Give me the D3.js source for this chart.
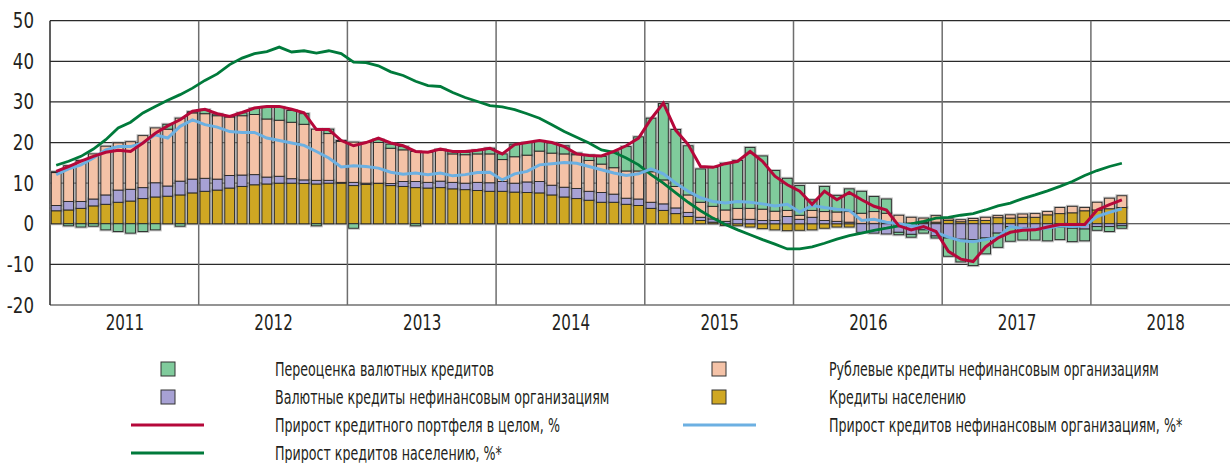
<!DOCTYPE html>
<html>
<head>
<meta charset="utf-8">
<script src="https://cdn.jsdelivr.net/npm/d3@7"></script>
<style>
  body { margin: 0; background: #fff; }
  text { font-family: "Liberation Sans Narrow", "DejaVu Sans Condensed", sans-serif; fill: #231f20; }
</style>
</head>
<body>
<div id="chart"></div>
<script>
// monthly data, Jan 2011 .. Mar 2018 (87 months), p.p. / %
let years = [2011, 2012, 2013, 2014, 2015, 2016, 2017, 2018];
let yTicks = [-20, -10, 0, 10, 20, 30, 40, 50];

// Кредиты населению
let households = [3.2,3.4,3.8,4.4,4.8,5.3,5.6,6.2,6.6,6.8,7.1,7.6,
  8.0,8.3,8.8,9.2,9.6,9.8,10.0,10.0,9.9,9.8,10.0,10.0,
  9.4,9.7,9.9,9.4,9.2,8.9,8.8,8.9,8.6,8.4,8.2,8.0,
  8.0,7.8,7.7,7.6,7.1,6.6,6.2,5.8,5.3,5.3,4.8,4.5,
  3.8,3.3,2.5,1.8,0.8,0.4,-0.4,-0.5,-0.8,-1.2,-1.5,-1.7,
  -1.6,-1.5,-1.1,-0.8,-0.8,0.1,0.1,0.1,0.1,0.2,0.3,0.4,
  0.8,0.5,0.8,0.8,1.5,1.4,1.6,1.6,2.2,2.5,2.7,3.2,
  3.4,3.7,4.0];

// Валютные кредиты нефинансовым организациям
let fxCorp = [1.3,2.1,1.7,1.7,2.3,3.0,2.9,2.7,3.5,2.5,3.4,3.4,
  3.2,2.7,3.1,2.8,2.5,1.7,1.7,1.1,0.9,0.9,0.7,0.2,
  0.8,0.3,0.1,0.5,1.2,1.5,1.4,1.6,1.6,1.6,2.0,2.1,
  2.4,2.2,2.6,2.8,2.4,2.4,2.5,2.2,2.4,2.0,1.5,1.6,
  1.5,1.6,1.4,1.0,0.8,0.8,0.6,1.1,1.1,0.8,0.8,1.8,
  1.1,1.6,0.8,0.6,0.4,-2.1,-2.3,-2.5,-2.1,-2.6,-1.5,-3.0,
  -3.5,-3.8,-3.9,-3.5,-2.3,-0.7,-1.1,-1.5,-1.1,-0.8,-1.1,-1.3,
  -0.7,-0.7,-0.5];

// Рублевые кредиты нефинансовым организациям
let rubCorp = [8.1,8.8,10.1,11.1,12.0,11.6,11.7,12.8,13.5,14.0,15.5,16.3,
  15.9,15.6,14.4,14.6,14.8,14.3,13.8,13.9,13.7,12.6,11.5,10.1,
  9.9,10.0,10.0,8.7,7.8,7.4,7.4,7.6,7.0,7.0,7.0,7.1,
  5.4,6.5,6.6,7.5,7.9,8.2,8.3,7.6,7.0,6.5,6.7,6.9,
  7.5,5.9,5.3,4.3,3.7,3.1,2.8,2.7,2.7,2.8,2.3,1.5,
  1.0,1.7,2.2,2.3,2.6,2.5,2.9,2.5,2.0,1.4,1.1,1.6,
  0.4,0.5,0.5,0.8,0.5,0.8,0.8,0.9,0.8,1.5,1.6,0.8,
  1.9,2.6,2.9];

// Переоценка валютных кредитов
let revaluation = [0.2,-0.5,-0.8,-0.6,-1.5,-1.9,-2.3,-1.9,-1.5,1.2,-0.6,0.3,
  1.0,0.4,0.1,0.7,1.5,2.9,3.2,2.9,2.6,-0.5,1.1,0.2,
  -1.1,0,0.7,1.0,0.8,-0.5,0,0.2,0.6,0.6,0.9,1.4,
  1.4,3.1,3.1,2.4,2.5,2.0,0.4,1.3,1.9,3.9,6.0,8.4,
  13.2,18.8,14.0,12.1,8.2,9.6,11.5,11.8,15.0,13.1,10.0,7.9,
  7.3,2.6,6.2,4.1,5.6,5.4,3.7,3.5,-0.6,-0.7,-0.8,-0.5,
  -4.5,-5.6,-6.4,-3.9,-3.5,-3.6,-2.9,-2.5,-3.1,-3.1,-3.3,-2.9,
  -0.9,-1.2,-0.6];

// Прирост кредитного портфеля в целом, %
let totalGrowth = [12.9,14.1,15.4,16.6,17.6,18.1,17.8,19.9,22.3,24.1,25.6,27.7,
  28.2,27.1,26.4,27.4,28.5,28.9,28.9,28.2,27.3,23.2,23.2,20.5,
  19.2,20.0,21.1,19.9,19.2,17.8,17.6,18.4,17.8,17.8,18.1,18.6,
  17.2,19.5,20.0,20.5,20.0,19.0,17.2,16.8,16.7,17.8,19.2,21.1,
  25.8,29.7,23.0,19.5,14.1,13.9,14.8,15.4,17.8,15.4,11.7,9.6,
  8.0,4.8,8.0,5.9,7.7,5.9,4.3,3.4,-0.5,-1.5,-0.7,-1.9,
  -6.8,-8.7,-9.3,-5.7,-3.5,-2.1,-1.6,-1.5,-0.8,-0.2,-0.2,-0.2,
  3.4,4.7,5.9];

// Прирост кредитов нефинансовым организациям, %*
let corpGrowth = [12.1,13.5,14.5,16.2,18.2,19.0,19.0,19.9,21.9,21.1,24.0,25.6,
  24.4,23.8,22.7,22.5,22.5,21.1,20.5,19.9,19.3,17.8,16.2,14.0,
  14.3,14.1,13.7,12.7,12.2,12.5,12.1,12.5,11.8,12.1,12.6,12.7,
  10.8,12.3,12.9,14.5,14.8,15.1,14.9,14.1,13.3,12.5,11.9,12.3,
  13.5,12.3,10.0,8.0,6.4,5.5,5.1,5.5,5.3,4.9,4.4,4.8,
  2.9,4.5,4.0,3.6,3.3,0.8,1.1,0.4,0.0,-0.5,-0.8,-2.1,
  -3.3,-4.2,-4.4,-3.9,-3.3,-0.7,-1.2,-1.3,-1.1,-0.5,-0.7,-0.5,
  1.8,2.8,3.7];

// Прирост кредитов населению, %*
let householdGrowth = [14.4,15.4,16.6,18.4,20.7,23.6,25.0,27.3,28.9,30.4,31.8,33.4,
  35.3,36.9,39.2,40.8,41.9,42.4,43.5,42.3,42.6,42.0,42.6,41.9,
  39.8,39.7,38.9,37.4,36.5,35.1,34.0,33.8,32.3,31.1,30.1,29.1,
  28.8,28.1,27.1,26.0,24.4,22.7,21.3,19.9,18.2,17.6,16.2,14.5,
  12.1,10.0,7.6,5.3,3.2,1.4,-0.2,-1.5,-2.7,-3.9,-5.0,-6.2,
  -6.2,-5.7,-4.8,-3.8,-2.9,-2.3,-1.6,-1.1,-0.5,0.0,0.6,1.4,
  1.6,2.1,2.5,3.4,4.4,5.1,6.2,7.1,8.1,9.2,10.4,11.9,
  13.1,14.1,14.9];

let width = 1230;
let height = 463;
let plot = { left: 50, top: 20.7, bottom: 305, yearW: 148.7 };

let svg = d3.select("#chart")
    .append("svg")
    .attr("width", width)
    .attr("height", height)
    .style("background", "#fff");

// scales: x in months from Jan 2011
let x = d3.scaleLinear()
    .domain([0, years.length * 12])
    .range([plot.left, plot.left + years.length * plot.yearW]);

let y = d3.scaleLinear()
    .domain([-20, 50])
    .range([plot.bottom, plot.top]);

let step = x(1) - x(0);

// grid
svg.append("g")
    .selectAll("line")
    .data(yTicks)
    .enter()
    .append("line")
    .attr("x1", plot.left)
    .attr("x2", width)
    .attr("y1", d => y(d))
    .attr("y2", d => y(d))
    .attr("stroke", "#2a2a2a")
    .attr("stroke-width", 1.2);

svg.append("g")
    .selectAll("line")
    .data(years.slice(1))
    .enter()
    .append("line")
    .attr("x1", (d, i) => x((i + 1) * 12))
    .attr("x2", (d, i) => x((i + 1) * 12))
    .attr("y1", plot.top)
    .attr("y2", plot.bottom)
    .attr("stroke", "#6e6e6e")
    .attr("stroke-width", 1.5);

svg.append("line")
    .attr("x1", plot.left).attr("x2", plot.left)
    .attr("y1", plot.top).attr("y2", plot.bottom)
    .attr("stroke", "#2a2a2a")
    .attr("stroke-width", 1.5);

// y axis labels (narrowed, the original face is condensed)
let yAxis = svg.append("g")
    .attr("transform", "translate(34,0)")
    .call(d3.axisLeft(y).tickValues(yTicks).tickFormat(d => String(d)).tickSize(0).tickPadding(0));
yAxis.select(".domain").remove();
yAxis.selectAll("text")
    .style("font-size", "22px")
    .style("font-family", null)
    .attr("fill", "#231f20")
    .attr("transform", "scale(0.84,1)");

// x axis: year labels centred in each year
let xYear = d3.scaleLinear()
    .domain([years[0], years[0] + years.length])
    .range(x.range());
let xAxis = svg.append("g")
    .attr("transform", "translate(0," + plot.bottom + ")")
    .call(d3.axisBottom(xYear)
        .tickValues(years.map(d => d + 0.5))
        .tickFormat(d => Math.floor(d))
        .tickSize(0)
        .tickPadding(10));
xAxis.select(".domain").remove();
xAxis.selectAll("text")
    .style("font-size", "21px")
    .style("font-family", null)
    .attr("fill", "#231f20")
    .attr("transform", "scale(0.8,1)");

// stacked bars
let keys = ["households", "fxCorp", "rubCorp", "revaluation"];
let colors = {
    households: "#cfa723",
    fxCorp: "#a7a1d4",
    rubCorp: "#f4c2a7",
    revaluation: "#80cb9c"
};
let rows = households.map((d, i) => ({
    households: d,
    fxCorp: fxCorp[i],
    rubCorp: rubCorp[i],
    revaluation: revaluation[i]
}));
let stacked = d3.stack()
    .keys(keys)
    .offset(d3.stackOffsetDiverging)(rows);

let segs = [];
stacked.forEach(s => {
    s.forEach((d, i) => {
        if (d[1] !== d[0]) segs.push({ key: s.key, i: i, y0: d[0], y1: d[1] });
    });
});

// soft grey halo round the bars
svg.append("g")
    .selectAll("rect")
    .data(segs)
    .enter()
    .append("rect")
    .attr("x", d => x(d.i) + 1.3)
    .attr("width", step - 2.6)
    .attr("y", d => y(d.y1))
    .attr("height", d => y(d.y0) - y(d.y1))
    .attr("fill", "none")
    .attr("stroke", "#8c8c8c")
    .attr("stroke-opacity", 0.55)
    .attr("stroke-width", 3);

svg.append("g")
    .selectAll("rect")
    .data(segs)
    .enter()
    .append("rect")
    .attr("x", d => x(d.i) + 1.3)
    .attr("width", step - 2.6)
    .attr("y", d => y(d.y1))
    .attr("height", d => y(d.y0) - y(d.y1))
    .attr("fill", d => colors[d.key])
    .attr("stroke", "#262626")
    .attr("stroke-width", 0.9);

// lines
let line = d3.line()
    .x((d, i) => x(i + 0.5))
    .y(d => y(d));

svg.append("path")
    .datum(householdGrowth)
    .attr("d", line)
    .attr("fill", "none")
    .attr("stroke", "#007a3b")
    .attr("stroke-width", 2.8);

svg.append("path")
    .datum(corpGrowth)
    .attr("d", line)
    .attr("fill", "none")
    .attr("stroke", "#6cb0e2")
    .attr("stroke-width", 3);

svg.append("path")
    .datum(totalGrowth)
    .attr("d", line)
    .attr("fill", "none")
    .attr("stroke", "#b5083a")
    .attr("stroke-width", 3);

// legend
let legend = [
    { type: "box", color: colors.revaluation, label: "Переоценка валютных кредитов", col: 0, row: 0 },
    { type: "box", color: colors.rubCorp, label: "Рублевые кредиты нефинансовым организациям", col: 1, row: 0 },
    { type: "box", color: colors.fxCorp, label: "Валютные кредиты нефинансовым организациям", col: 0, row: 1 },
    { type: "box", color: colors.households, label: "Кредиты населению", col: 1, row: 1 },
    { type: "line", color: "#b5083a", label: "Прирост кредитного портфеля в целом, %", col: 0, row: 2 },
    { type: "line", color: "#6cb0e2", label: "Прирост кредитов нефинансовым организациям, %*", col: 1, row: 2 },
    { type: "line", color: "#007a3b", label: "Прирост кредитов населению, %*", col: 0, row: 3 }
];
let colPos = [{ mark: 168, lineX: 131, text: 275 }, { mark: 719, lineX: 683, text: 829 }];
let rowY = [369, 397, 425, 453];

let lg = svg.append("g")
    .selectAll("g")
    .data(legend)
    .enter()
    .append("g")
    .attr("transform", d => "translate(0," + rowY[d.row] + ")");

lg.filter(d => d.type === "box")
    .append("rect")
    .attr("x", d => colPos[d.col].mark - 7)
    .attr("y", -7)
    .attr("width", 14)
    .attr("height", 14)
    .attr("fill", d => d.color)
    .attr("stroke", "#333")
    .attr("stroke-width", 1);

lg.filter(d => d.type === "line")
    .append("line")
    .attr("x1", d => colPos[d.col].lineX)
    .attr("x2", d => colPos[d.col].lineX + 73)
    .attr("y1", 0)
    .attr("y2", 0)
    .attr("stroke", d => d.color)
    .attr("stroke-width", 3);

lg.append("text")
    .attr("transform", d => "translate(" + colPos[d.col].text + ",0) scale(0.74,1)")
    .attr("dy", "0.36em")
    .style("font-size", "19px")
    .text(d => d.label);
</script>
</body>
</html>
